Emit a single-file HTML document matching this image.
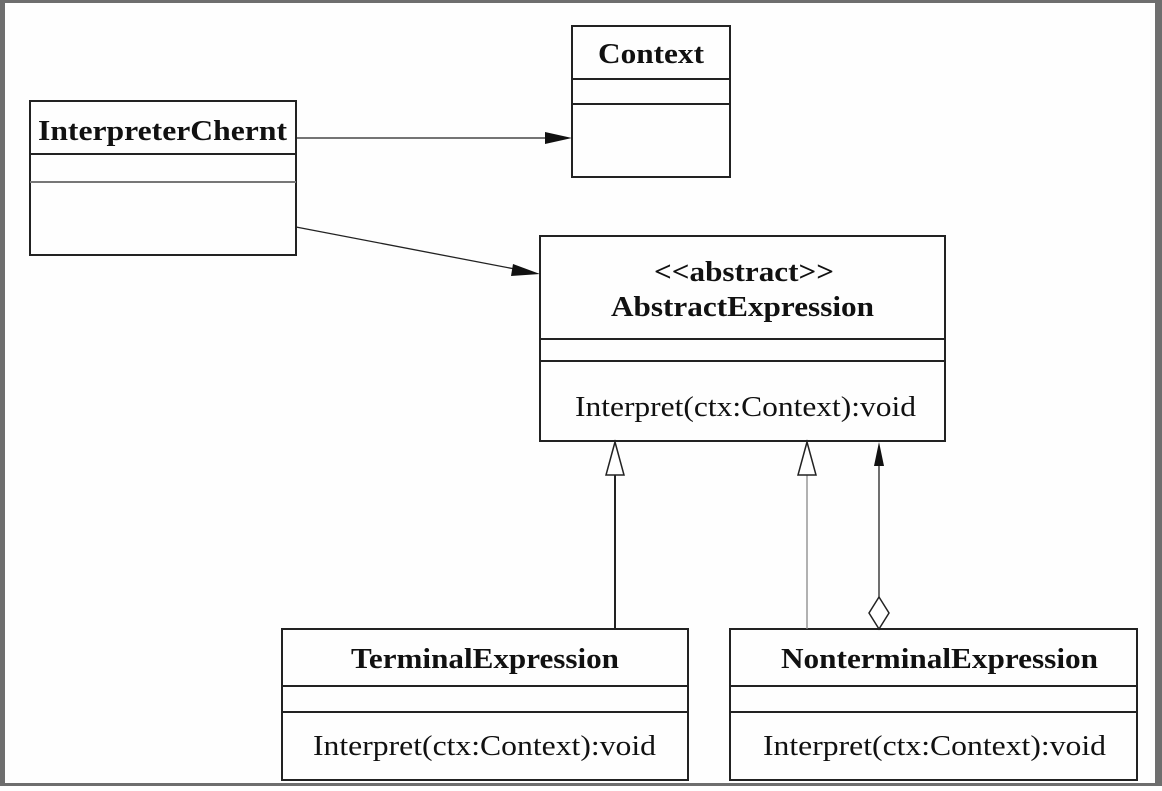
<!DOCTYPE html>
<html><head><style>
body{margin:0;width:1162px;height:786px;overflow:hidden;background:#fff}
svg text{font-family:"Liberation Serif",serif;fill:#111}
</style></head><body>
<svg width="1162" height="786" xmlns="http://www.w3.org/2000/svg">
<rect x="0" y="0" width="1162" height="786" fill="#6e6e6e"/>
<rect x="5" y="3" width="1150" height="780" fill="#fefefe"/>
<g fill="none" stroke="#222" stroke-width="2">
<rect x="30" y="101" width="266" height="154"/>
<line x1="30" y1="154" x2="296" y2="154"/>
<line x1="30" y1="182" x2="296" y2="182" stroke="#777"/>
<rect x="572" y="26" width="158" height="151"/>
<line x1="572" y1="79" x2="730" y2="79"/>
<line x1="572" y1="104" x2="730" y2="104"/>
<rect x="540" y="236" width="405" height="205"/>
<line x1="540" y1="339" x2="945" y2="339"/>
<line x1="540" y1="361" x2="945" y2="361"/>
<rect x="282" y="629" width="406" height="151"/>
<line x1="282" y1="686" x2="688" y2="686"/>
<line x1="282" y1="712" x2="688" y2="712"/>
<rect x="730" y="629" width="407" height="151"/>
<line x1="730" y1="686" x2="1137" y2="686"/>
<line x1="730" y1="712" x2="1137" y2="712"/>
</g>
<g stroke="#222" stroke-width="1.3" fill="none">
<line x1="296" y1="138" x2="550" y2="138"/>
<line x1="296" y1="227" x2="520" y2="270"/>
<line x1="615" y1="475" x2="615" y2="629" stroke-width="2"/>
<line x1="807" y1="475" x2="807" y2="629" stroke="#888"/>
<line x1="879" y1="462" x2="879" y2="597"/>
</g>
<polygon points="572,138 545,132 545,144" fill="#111"/>
<polygon points="540,274 513,264 511,276" fill="#111"/>
<polygon points="615,442 606,475 624,475" fill="#fff" stroke="#222" stroke-width="1.5"/>
<polygon points="807,442 798,475 816,475" fill="#fff" stroke="#222" stroke-width="1.5"/>
<polygon points="879,442 874,466 884,466" fill="#111"/>
<polygon points="879,597 869,613 879,629 889,613" fill="#fff" stroke="#222" stroke-width="1.5"/>
<g font-weight="bold" font-size="29" lengthAdjust="spacingAndGlyphs">
<text x="38" y="140" textLength="249" lengthAdjust="spacingAndGlyphs">InterpreterChernt</text>
<text x="598" y="63" textLength="106" lengthAdjust="spacingAndGlyphs">Context</text>
<text x="654" y="281" textLength="180" lengthAdjust="spacingAndGlyphs">&lt;&lt;abstract&gt;&gt;</text>
<text x="611" y="316" textLength="263" lengthAdjust="spacingAndGlyphs">AbstractExpression</text>
<text x="351" y="668" textLength="268" lengthAdjust="spacingAndGlyphs">TerminalExpression</text>
<text x="781" y="668" textLength="317" lengthAdjust="spacingAndGlyphs">NonterminalExpression</text>
</g>
<g font-size="29">
<text x="575" y="416" textLength="341" lengthAdjust="spacingAndGlyphs">Interpret(ctx:Context):void</text>
<text x="313" y="755" textLength="343" lengthAdjust="spacingAndGlyphs">Interpret(ctx:Context):void</text>
<text x="763" y="755" textLength="343" lengthAdjust="spacingAndGlyphs">Interpret(ctx:Context):void</text>
</g>
</svg>
</body></html>
